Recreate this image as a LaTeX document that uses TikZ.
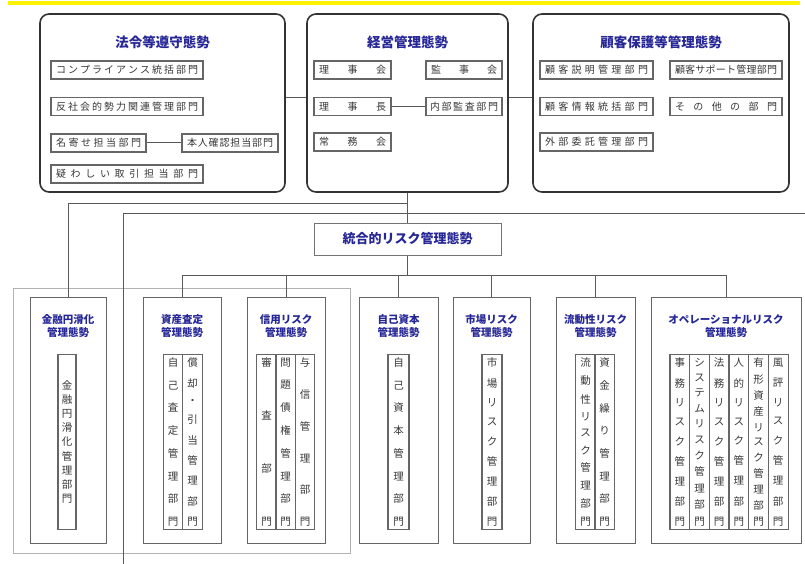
\documentclass[tikz,border=0pt]{standalone}
\usepackage{fontspec}
\setmainfont{Noto Sans CJK JP}
\usetikzlibrary{positioning}
\definecolor{titleblue}{RGB}{38,38,150}
\definecolor{textgray}{RGB}{55,55,55}
% characters spread over a fixed width / height
\def\spreadloop#1{\spreadbox{#1}\spreadnext}
\def\spreadnext#1{\ifx#1\relax\else\spreadsep\spreadbox{#1}\expandafter\spreadnext\fi}
\newcommand\yoko[2]{\hbox to #1{\def\spreadbox##1{##1}\let\spreadsep\hfill\spreadloop#2\relax}}
\newcommand\tate[2]{\vbox to #1{\offinterlineskip\def\spreadbox##1{\hbox to 1.2em{\hss##1\hss}}\let\spreadsep\vfill\spreadloop#2\relax}}
\tikzset{
	panel/.style={
		rectangle,
		rounded corners=9pt,
		draw=black!80, line width=1.6pt,
		minimum height=178pt,
		inner sep=0pt,
	},
	ptitle/.style={
		text=titleblue,
		font=\bfseries\fontsize{13.5}{16}\selectfont,
		inner sep=0pt,
	},
	unit/.style={
		rectangle,
		draw=black!60, line width=1.3pt,
		minimum height=18pt,
		inner sep=0pt,
		text=textgray,
		font=\fontsize{10}{12}\selectfont,
	},
	riskbox/.style={
		rectangle,
		draw=black!60, line width=1pt,
		minimum height=246pt,
		inner sep=0pt,
	},
	rtitle/.style={
		text=titleblue, align=center,
		font=\bfseries\fontsize{10.5}{13}\selectfont,
		inner sep=0pt,
	},
	col/.style={
		rectangle,
		draw=black!60, line width=1.1pt,
		minimum height=175pt,
		inner sep=0pt,
		text=textgray,
		font=\fontsize{10.5}{12}\selectfont,
	},
	line/.style={
		draw=black!65, line width=1pt,
	},
}

\begin{document}
\begin{tikzpicture}[x=1pt, y=-1pt]
\useasboundingbox (0,0) rectangle (805,564);
\fill[yellow] (8,1) rectangle (800,5);

% upper three panels
\node	(hourei)	[panel, minimum width=245pt]	at (162.5,103)	{};
\node	(keiei)		[panel, minimum width=201pt]	at (407.5,103)	{};
\node	(kokyaku)	[panel, minimum width=256pt]	at (661,103)	{};
\node	(houreiT)	[ptitle]	[below=22pt of hourei.north]	{法令等遵守態勢};
\node	(keieiT)	[ptitle]	[below=22pt of keiei.north]	{経営管理態勢};
\node	(kokyakuT)	[ptitle]	[below=22pt of kokyaku.north]	{顧客保護等管理態勢};

\node	(comp)		[unit, minimum width=152pt]	at (127,70)	{\yoko{142pt}{コンプライアンス統括部門}};
\node	(hansha)	[unit, minimum width=152pt]	at (127,106.5)	{\yoko{142pt}{反社会的勢力関連管理部門}};
\node	(nayose)	[unit, minimum width=95pt]	at (98.5,143)	{\yoko{85pt}{名寄せ担当部門}};
\node	(honnin)	[unit, minimum width=96pt]	at (230,143)	{\yoko{86pt}{本人確認担当部門}};
\node	(utagai)	[unit, minimum width=152pt]	at (127,174)	{\yoko{142pt}{疑わしい取引担当部門}};

\node	(rijikai)	[unit, minimum width=77pt]	at (352.5,70)	{\yoko{67pt}{理事会}};
\node	(kanjikai)	[unit, minimum width=76pt]	at (464,70)	{\yoko{66pt}{監事会}};
\node	(rijicho)	[unit, minimum width=77pt]	at (352.5,106.5)	{\yoko{67pt}{理事長}};
\node	(naibu)		[unit, minimum width=76pt]	at (464,106.5)	{\yoko{68pt}{内部監査部門}};
\node	(jomukai)	[unit, minimum width=77pt]	at (352.5,142)	{\yoko{67pt}{常務会}};

\node	(setsumei)	[unit, minimum width=113pt]	at (596.5,70)	{\yoko{103pt}{顧客説明管理部門}};
\node	(support)	[unit, minimum width=112pt]	at (726,70)	{\yoko{102pt}{顧客サポート管理部門}};
\node	(joho)		[unit, minimum width=113pt]	at (596.5,106.5)	{\yoko{103pt}{顧客情報統括部門}};
\node	(sonota)	[unit, minimum width=112pt]	at (726,106.5)	{\yoko{102pt}{その他の部門}};
\node	(gaibu)		[unit, minimum width=113pt]	at (596.5,142)	{\yoko{103pt}{外部委託管理部門}};

% integrated risk management
\node	(togo)	[rectangle, draw=black!55, line width=1pt, minimum width=187pt, minimum height=32pt, text=titleblue, font=\bfseries\fontsize{13}{15}\selectfont]	at (407.5,239)	{統合的リスク管理態勢};

% lower risk panels
\node	(group)		[rectangle, draw=black!30, line width=0.8pt, minimum width=337pt, minimum height=265pt]	at (181.5,420.5)	{};
\node	(enkatsu)	[riskbox, minimum width=76pt]	at (68,420)	{};
\node	(satei)		[riskbox, minimum width=78pt]	at (182,420)	{};
\node	(shinyo)	[riskbox, minimum width=78pt]	at (286,420)	{};
\node	(jiko)		[riskbox, minimum width=79pt]	at (398.5,420)	{};
\node	(shijo)		[riskbox, minimum width=77pt]	at (491.5,420)	{};
\node	(ryudo)		[riskbox, minimum width=79pt]	at (595.5,420)	{};
\node	(ope)		[riskbox, minimum width=150pt]	at (726,420)	{};

\node	(enkatsuT)	[rtitle]	[below=18pt of enkatsu.north]	{金融円滑化\\管理態勢};
\node	(sateiT)	[rtitle]	[below=18pt of satei.north]	{資産査定\\管理態勢};
\node	(shinyoT)	[rtitle]	[below=18pt of shinyo.north]	{信用リスク\\管理態勢};
\node	(jikoT)		[rtitle]	[below=18pt of jiko.north]	{自己資本\\管理態勢};
\node	(shijoT)	[rtitle]	[below=18pt of shijo.north]	{市場リスク\\管理態勢};
\node	(ryudoT)	[rtitle]	[below=18pt of ryudo.north]	{流動性リスク\\管理態勢};
\node	(opeT)		[rtitle]	[below=18pt of ope.north]	{オペレーショナルリスク\\管理態勢};

\node	(enkatsuC)	[col, minimum width=18pt]	at (67,442)	{\tate{122pt}{金融円滑化管理部門}};
\node	(sateiA)	[col, minimum width=19.5pt]	at (173,442)	{\tate{167pt}{自己査定管理部門}};
\node	(sateiB)	[col, minimum width=19.5pt]	at (192.5,442)	{\tate{167pt}{償却・引当管理部門}};
\node	(shinyoA)	[col, minimum width=19.5pt]	at (266.5,442)	{\tate{167pt}{審査部門}};
\node	(shinyoB)	[col, minimum width=19.5pt]	at (285.5,442)	{\tate{167pt}{問題債権管理部門}};
\node	(shinyoC)	[col, minimum width=19.5pt]	at (305,442)	{\tate{167pt}{与信管理部門}};
\node	(jikoC)		[col, minimum width=21pt]	at (398.5,442)	{\tate{167pt}{自己資本管理部門}};
\node	(shijoC)	[col, minimum width=20pt]	at (492,442)	{\tate{167pt}{市場リスク管理部門}};
\node	(ryudoA)	[col, minimum width=19.5pt]	at (585.5,442)	{\tate{167pt}{流動性リスク管理部門}};
\node	(ryudoB)	[col, minimum width=19.5pt]	at (604.5,442)	{\tate{167pt}{資金繰り管理部門}};
\node	(opeA)		[col, minimum width=19.7pt]	at (679.8,442)	{\tate{167pt}{事務リスク管理部門}};
\node	(opeB)		[col, minimum width=19.7pt]	at (699.5,442)	{\tate{167pt}{システムリスク管理部門}};
\node	(opeC)		[col, minimum width=19.7pt]	at (719.2,442)	{\tate{167pt}{法務リスク管理部門}};
\node	(opeD)		[col, minimum width=19.7pt]	at (738.8,442)	{\tate{167pt}{人的リスク管理部門}};
\node	(opeE)		[col, minimum width=19.7pt]	at (758.5,442)	{\tate{167pt}{有形資産リスク管理部門}};
\node	(opeF)		[col, minimum width=19.7pt]	at (778.2,442)	{\tate{167pt}{風評リスク管理部門}};

% connectors
\coordinate	(split)	at (407.5,203);
\coordinate	(feedR)	at (805,213);
\coordinate	(feedB)	at (123,564);
\coordinate	(bus)	at (407.5,275);

\path[line] ([yshift=5pt]hourei.east) edge ([yshift=5pt]keiei.west);
\path[line] ([yshift=5pt]keiei.east) edge ([yshift=5pt]kokyaku.west);
\path[line] (nayose) edge (honnin);
\path[line] (rijicho) edge (naibu);
\path[line] (keiei) edge (togo);
\draw[line] (split) -| (enkatsu.north);
\draw[line] (feedR) -| (feedB);
\path[line] (togo) edge (bus);
\draw[line] (bus) -| (satei.north);
\draw[line] (bus) -| (shinyo.north);
\draw[line] (bus) -| (jiko.north);
\draw[line] (bus) -| (shijo.north);
\draw[line] (bus) -| (ryudo.north);
\draw[line] (bus) -| (ope.north);

\end{tikzpicture}
\end{document}
